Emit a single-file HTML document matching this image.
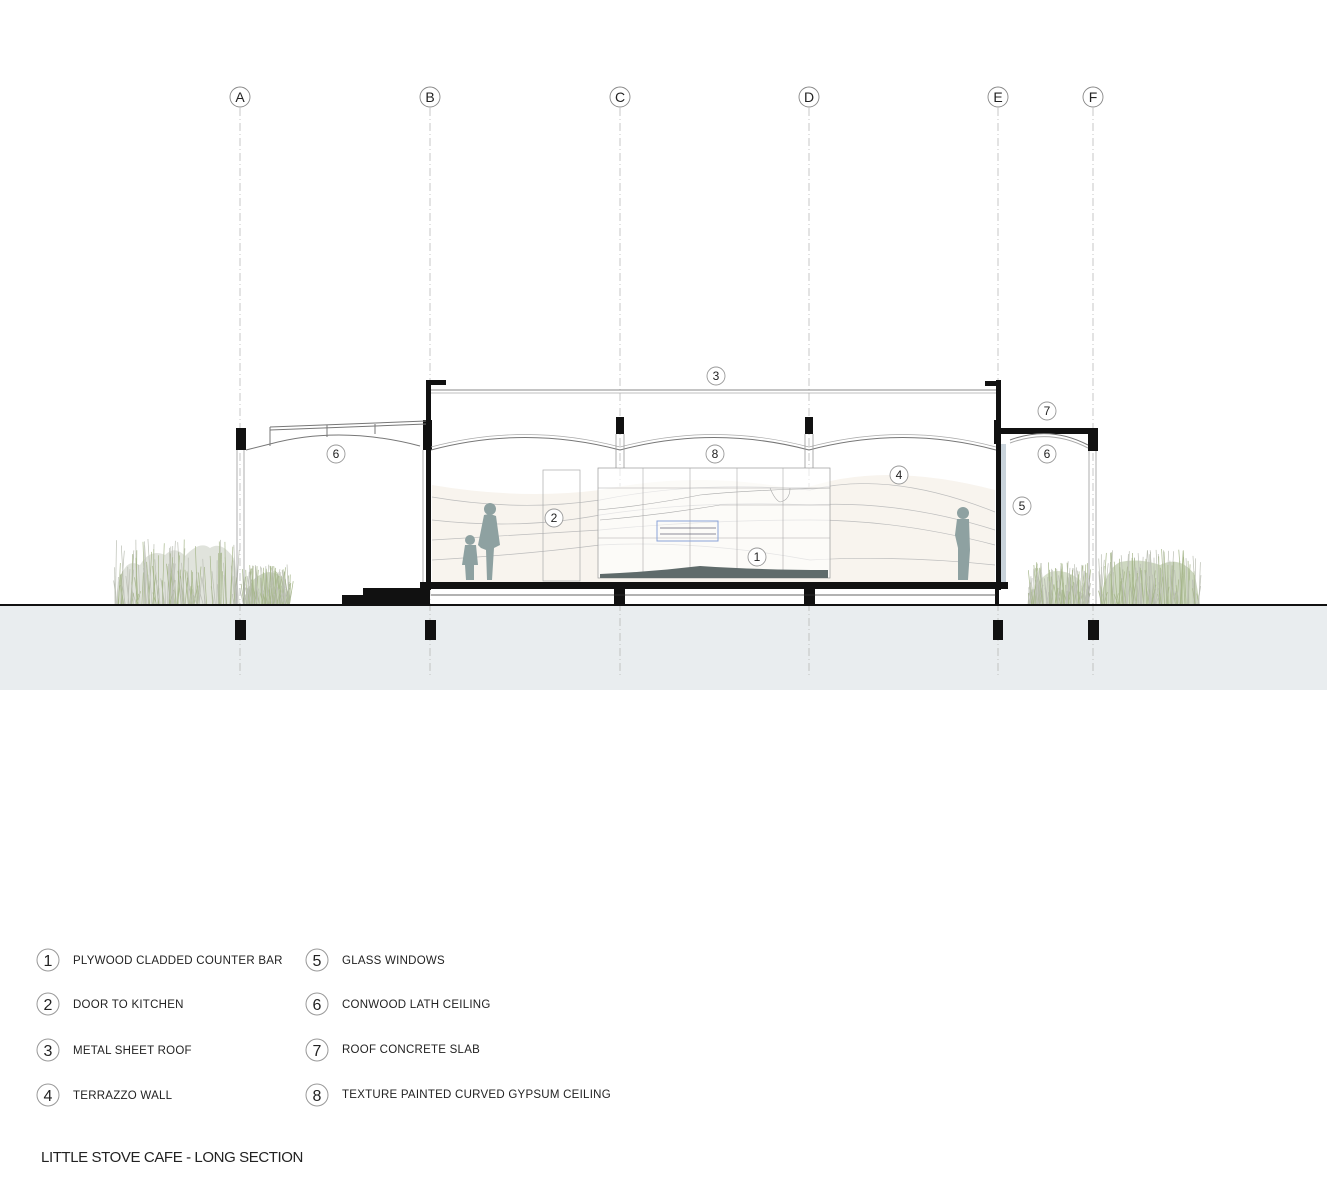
<!DOCTYPE html>
<html><head><meta charset="utf-8"><style>
html,body{margin:0;padding:0;background:#fff}
svg{display:block}
text{font-family:"Liberation Sans",sans-serif}
</style></head><body>
<svg id="s" width="1327" height="1200" viewBox="0 0 1327 1200" xmlns="http://www.w3.org/2000/svg">
<rect x="0" y="606" width="1327" height="84" fill="#e9edef"/>
<g id="grass">
<path d="M115,605 Q118,575 125,568 Q130,560 140,565 Q150,548 165,555 Q175,545 185,556 Q200,540 210,548 Q222,540 235,560 L240,605 Z" fill="#c2c8ba" opacity="0.5"/>
<path d="M243,605 Q248,580 260,575 Q272,568 282,578 L290,605 Z" fill="#a9bd92" opacity="0.55"/>
<path d="M1028,605 Q1035,580 1050,572 Q1065,568 1080,580 L1088,605 Z" fill="#b2c29c" opacity="0.5"/>
<path d="M1100,605 Q1104,570 1120,562 Q1140,558 1160,565 Q1180,555 1195,575 L1200,605 Z" fill="#a5b88e" opacity="0.55"/>
</g>
<g stroke="#b0b0b0" stroke-width="0.7" stroke-dasharray="8,3,1,3" fill="none">
<line x1="240" y1="108" x2="240" y2="676"/>
<line x1="430" y1="108" x2="430" y2="676"/>
<line x1="620" y1="108" x2="620" y2="676"/>
<line x1="809" y1="108" x2="809" y2="676"/>
<line x1="998" y1="108" x2="998" y2="676"/>
<line x1="1093" y1="108" x2="1093" y2="676"/>
</g>
<g fill="#fff" stroke="#888" stroke-width="0.9">
<circle cx="240" cy="97" r="10"/><circle cx="430" cy="97" r="10"/><circle cx="620" cy="97" r="10"/>
<circle cx="809" cy="97" r="10"/><circle cx="998" cy="97" r="10"/><circle cx="1093" cy="97" r="10"/>
</g>
<g font-size="14" text-anchor="middle" fill="#222">
<text x="240" y="102">A</text><text x="430" y="102">B</text><text x="620" y="102">C</text>
<text x="809" y="102">D</text><text x="998" y="102">E</text><text x="1093" y="102">F</text>
</g>
<path d="M432,485 Q520,500 600,490 Q700,470 800,490 Q880,460 995,490 L995,582 L432,582 Z" fill="#f8f4ee"/>
<g stroke="#bdbdbd" stroke-width="0.7" fill="none">
<path d="M432,497 Q520,512 600,500 Q700,480 810,490 Q890,470 995,512"/>
<path d="M432,520 Q520,530 600,515 Q700,500 810,505 Q900,500 995,530"/>
<path d="M432,540 Q520,535 600,530 Q700,520 810,520 Q900,520 995,545"/>
<path d="M432,560 Q520,555 600,545 Q700,540 810,560 Q900,555 995,565"/>
</g>
<rect x="543" y="470" width="37" height="111" fill="none" stroke="#aaa" stroke-width="0.7"/>
<rect x="598" y="468" width="232" height="110" fill="#fff" fill-opacity="0.6" stroke="#999" stroke-width="0.7"/>
<g stroke="#aaa" stroke-width="0.6" fill="none">
<line x1="598" y1="538" x2="830" y2="538"/><line x1="598" y1="488" x2="830" y2="488"/>
<line x1="643" y1="468" x2="643" y2="578"/><line x1="690" y1="468" x2="690" y2="578"/>
<line x1="737" y1="468" x2="737" y2="578"/><line x1="783" y1="468" x2="783" y2="578"/>
<path d="M598,510 Q650,505 700,495 Q750,490 830,488"/><path d="M600,520 Q660,515 720,505 Q780,505 830,505"/>
<path d="M770,488 Q775,500 780,502 Q790,500 790,488"/>
</g>
<rect x="657" y="521" width="61" height="20" fill="none" stroke="#8aa3d8" stroke-width="1"/>
<line x1="660" y1="528" x2="716" y2="528" stroke="#667" stroke-width="0.8"/>
<line x1="660" y1="534" x2="716" y2="534" stroke="#667" stroke-width="0.8"/>
<path d="M600,578 L600,574 Q650,572 700,566 Q760,570 828,570 L828,578 Z" fill="#5f6b6b"/>
<path d="M431,390 L996,390" stroke="#888" stroke-width="1"/>
<path d="M431,393 L996,393" stroke="#aaa" stroke-width="0.8"/>
<g fill="#111">
<rect x="426" y="380" width="5" height="210"/><rect x="426" y="380" width="20" height="5"/>
<rect x="423" y="420" width="9" height="30"/>
<rect x="996" y="380" width="5" height="210"/><rect x="985" y="381" width="16" height="5"/>
<rect x="994" y="420" width="7" height="24"/>
<rect x="616" y="417" width="8" height="17"/><rect x="805" y="417" width="8" height="17"/>
<rect x="420" y="582" width="588" height="7"/>
<rect x="614" y="589" width="11" height="16"/><rect x="804" y="589" width="11" height="16"/>
<rect x="426" y="589" width="4" height="16"/><rect x="995" y="589" width="4" height="16"/>
<rect x="363" y="588" width="64" height="17"/><rect x="342" y="595" width="30" height="10"/>
<rect x="235" y="620" width="11" height="20"/><rect x="425" y="620" width="11" height="20"/>
<rect x="993" y="620" width="10" height="20"/><rect x="1088" y="620" width="11" height="20"/>
<rect x="236" y="428" width="10" height="22"/>
<rect x="1001" y="428" width="97" height="6"/><rect x="1088" y="428" width="10" height="23"/>
</g>
<line x1="431" y1="595" x2="996" y2="595" stroke="#333" stroke-width="0.8"/>
<g stroke="#777" stroke-width="1" fill="none">
<path d="M431,450 Q525,425 620,450 Q714,425 809,450 Q903,425 996,450"/>
<path d="M431,447 Q525,422 620,447 Q714,422 809,447 Q903,422 996,447" stroke="#aaa" stroke-width="0.7"/>
<path d="M246,450 L270,444 Q340,425 420,446"/>
<path d="M270,427 L426,421" /><path d="M270,430 L426,424"/>
<line x1="270" y1="427" x2="270" y2="446"/><line x1="327" y1="425" x2="327" y2="437"/><line x1="375" y1="424" x2="375" y2="434"/>
<path d="M1010,440 Q1050,425 1088,445"/><path d="M1010,443 Q1050,428 1088,448" stroke="#aaa"/>
</g>
<g stroke="#999" stroke-width="0.8" fill="none">
<line x1="237" y1="450" x2="237" y2="605"/><line x1="244" y1="450" x2="244" y2="605"/>
<line x1="1089" y1="451" x2="1089" y2="605"/><line x1="1096" y1="451" x2="1096" y2="605"/>
<line x1="423" y1="450" x2="423" y2="582"/>
<line x1="616" y1="434" x2="616" y2="468"/><line x1="624" y1="434" x2="624" y2="468"/>
<line x1="805" y1="434" x2="805" y2="468"/><line x1="813" y1="434" x2="813" y2="468"/>
</g>
<rect x="1001" y="444" width="5" height="138" fill="#c9d3db"/>
<g fill="#8ea1a1">
<circle cx="490" cy="509" r="6"/><path d="M484,515 Q490,513 496,516 L500,545 L494,548 L492,580 L487,580 L486,550 L481,548 L478,545 Z"/>
<circle cx="470" cy="540" r="5"/><path d="M465,545 L476,545 L478,565 L474,565 L474,580 L466,580 L465,565 L462,565 Z"/>
<circle cx="963" cy="513" r="6"/><path d="M957,519 L969,519 L970,550 L968,580 L958,580 L958,548 L955,535 Z"/>
</g>
<g fill="#fff" stroke="#999" stroke-width="0.9">
<circle cx="716" cy="376" r="9"/><circle cx="336" cy="454" r="9"/><circle cx="715" cy="454" r="9"/>
<circle cx="899" cy="475" r="9"/><circle cx="1047" cy="411" r="9"/><circle cx="1047" cy="454" r="9"/>
<circle cx="1022" cy="506" r="9"/><circle cx="554" cy="518" r="9"/><circle cx="757" cy="557" r="9"/>
</g>
<g font-size="12" text-anchor="middle" fill="#222">
<text x="716" y="380">3</text><text x="336" y="458">6</text><text x="715" y="458">8</text>
<text x="899" y="479">4</text><text x="1047" y="415">7</text><text x="1047" y="458">6</text>
<text x="1022" y="510">5</text><text x="554" y="522">2</text><text x="757" y="561">1</text>
</g>
<rect x="0" y="604" width="1327" height="2" fill="#111"/>
<g fill="#fff" stroke="#999" stroke-width="1">
<circle cx="48" cy="960" r="11"/><circle cx="48" cy="1004" r="11"/><circle cx="48" cy="1050" r="11"/><circle cx="48" cy="1095" r="11"/>
<circle cx="317" cy="960" r="11"/><circle cx="317" cy="1004" r="11"/><circle cx="317" cy="1050" r="11"/><circle cx="317" cy="1095" r="11"/>
</g>
<g font-size="16" text-anchor="middle" fill="#222">
<text x="48" y="966">1</text><text x="48" y="1010">2</text><text x="48" y="1056">3</text><text x="48" y="1101">4</text>
<text x="317" y="966">5</text><text x="317" y="1010">6</text><text x="317" y="1056">7</text><text x="317" y="1101">8</text>
</g>
<g font-size="11.5" fill="#222" letter-spacing="0.25">
<text x="73" y="964">PLYWOOD CLADDED COUNTER BAR</text>
<text x="73" y="1008">DOOR TO KITCHEN</text>
<text x="73" y="1054">METAL SHEET ROOF</text>
<text x="73" y="1099">TERRAZZO WALL</text>
<text x="342" y="964">GLASS WINDOWS</text>
<text x="342" y="1008">CONWOOD LATH CEILING</text>
<text x="342" y="1053">ROOF CONCRETE SLAB</text>
<text x="342" y="1098">TEXTURE PAINTED CURVED GYPSUM CEILING</text>
</g>
<text x="41" y="1162" font-size="15" fill="#222" letter-spacing="-0.4">LITTLE STOVE CAFE - LONG SECTION</text>
</svg>
<script>
(function(){var g=document.getElementById('grass');var ns='http://www.w3.org/2000/svg';
var r=[[115,240,55],[243,290,30],[1028,1088,33],[1100,1200,45]];var seed=7;function rnd(){seed=(seed*9301+49297)%233280;return seed/233280;}
r.forEach(function(a){for(var i=0;i<140;i++){var x=a[0]+rnd()*(a[1]-a[0]);var h=10+rnd()*a[2];var l=document.createElementNS(ns,'line');
l.setAttribute('x1',x);l.setAttribute('y1',604);l.setAttribute('x2',x+(rnd()-0.5)*8);l.setAttribute('y2',604-h);
l.setAttribute('stroke',rnd()>0.5?'#a7b78c':'#bcc0b5');l.setAttribute('stroke-width',0.7);g.appendChild(l);}});})();
</script>
</body></html>
